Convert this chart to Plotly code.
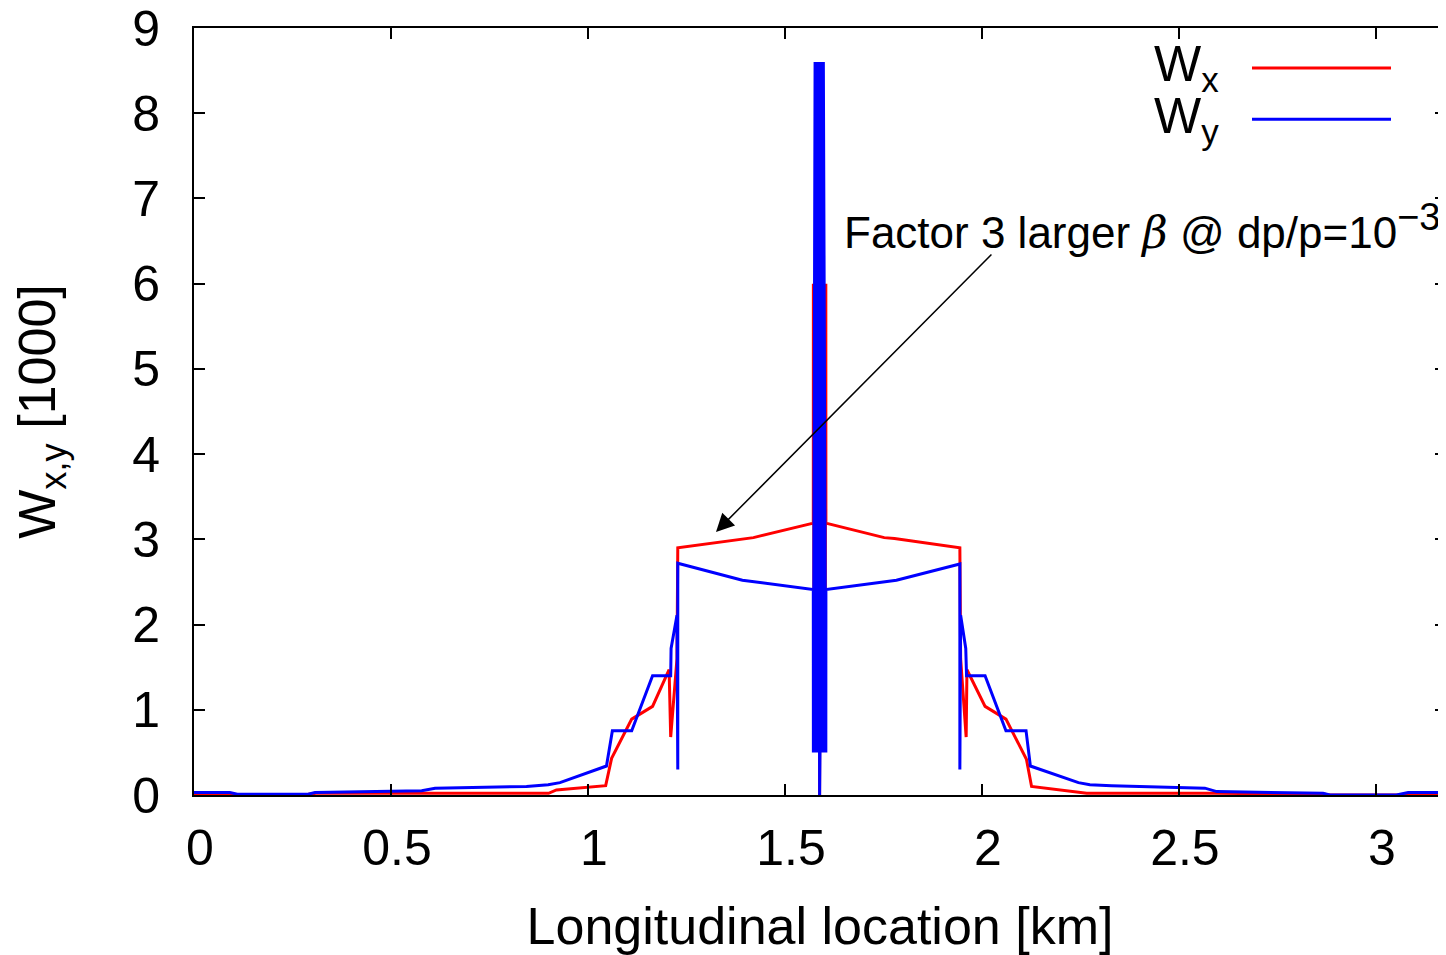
import plotly.graph_objects as go

# ---------------- data ----------------
wx_s = [0.000, 0.090, 0.105, 0.290, 0.310, 0.580, 0.900, 0.920, 1.045, 1.060,
        1.111, 1.164, 1.206, 1.210, 1.226, 1.228, 1.394, 1.420, 1.572,
        1.5722, 1.5740, 1.5758, 1.5776, 1.5794, 1.5812, 1.5830, 1.5848, 1.5866,
        1.5880, 1.5894, 1.5912, 1.5930, 1.5948, 1.5966, 1.5984, 1.6002, 1.6020,
        1.6038, 1.604, 1.752, 1.778, 1.944, 1.946, 1.960, 1.962, 2.008, 2.061,
        2.113, 2.126, 2.266, 2.590, 2.870, 2.885, 3.060, 3.080, 3.175]
wx_v = [0.01, 0.01, 0.00, 0.01, 0.02, 0.02, 0.02, 0.06, 0.11, 0.43,
        0.89, 1.04, 1.47, 0.68, 1.60, 2.90, 3.01, 3.02, 3.19,
        6.00, 1.30, 6.00, 1.30, 6.00, 1.30, 6.00, 1.30, 6.00,
        0.00, 6.00, 1.30, 6.00, 1.30, 6.00, 1.30, 6.00, 1.30,
        6.00, 3.19, 3.02, 3.01, 2.90, 1.60, 0.68, 1.47, 1.04, 0.89,
        0.42, 0.10, 0.02, 0.02, 0.01, 0.00, 0.00, 0.01, 0.01]

wy_s = [0.000, 0.091, 0.110, 0.290, 0.307, 0.497, 0.578, 0.612, 0.844, 0.899,
        0.929, 1.047, 1.062, 1.111, 1.164, 1.210, 1.211, 1.226, 1.228, 1.228,
        1.392, 1.572,
        1.5722, 1.5765, 1.5780, 1.5795, 1.5810, 1.5825, 1.5840, 1.5855, 1.5870,
        1.5880, 1.5890, 1.5905, 1.5920, 1.5935, 1.5950, 1.5965, 1.6000, 1.5975,
        1.6038, 1.604,
        1.783, 1.944, 1.944, 1.946, 1.959, 1.961, 2.008, 2.061, 2.112, 2.123,
        2.245, 2.274, 2.329, 2.566, 2.596, 2.866, 2.883, 3.052, 3.082, 3.175]
wy_v = [0.03, 0.03, 0.01, 0.01, 0.03, 0.04, 0.05, 0.08, 0.10, 0.12,
        0.145, 0.34, 0.755, 0.755, 1.40, 1.40, 1.72, 2.11, 0.30, 2.72,
        2.52, 2.41,
        0.50, 8.60, 0.50, 8.60, 0.50, 8.60, 0.50, 8.60, 0.50,
        0.00, 0.50, 8.60, 0.50, 8.60, 0.50, 8.60, 0.50, 8.60,
        0.50, 2.41,
        2.52, 2.71, 0.30, 2.11, 1.72, 1.40, 1.40, 0.755, 0.755, 0.34,
        0.145, 0.12, 0.11, 0.08, 0.04, 0.02, 0.00, 0.00, 0.03, 0.03]

x_ticks = [0, 0.5, 1, 1.5, 2, 2.5, 3]
x_tick_labels = ["0", "0.5", "1", "1.5", "2", "2.5", "3"]
y_ticks = [0, 1, 2, 3, 4, 5, 6, 7, 8, 9]

series_names = ["W<sub>x</sub>", "W<sub>y</sub>"]
series_colors = ["#ff0000", "#0000ff"]

FONT = "Liberation Sans, Arial, Helvetica, sans-serif"
LW = 3.0

fig = go.Figure()
fig.add_trace(go.Scatter(x=wx_s, y=wx_v, mode="lines", name=series_names[0],
                         line=dict(color=series_colors[0], width=LW), showlegend=False))
fig.add_trace(go.Scatter(x=wy_s, y=wy_v, mode="lines", name=series_names[1],
                         line=dict(color=series_colors[1], width=LW), showlegend=False))
# invisible trace to carry the right-hand mirror ticks
fig.add_trace(go.Scatter(x=[None], y=[None], yaxis="y2", showlegend=False, hoverinfo="skip"))

# the page body has an 8px margin, so the figure is placed at (8, 8)
W, H = 1438, 947
L, R, T, B = 186, 0, 20, 160

fig.update_layout(
    width=W, height=H,
    margin=dict(l=L, r=R, t=T, b=B),
    paper_bgcolor="white", plot_bgcolor="white",
    font=dict(family=FONT, size=50, color="black"),
    showlegend=False,
    xaxis=dict(
        range=[0, 3.178], tickvals=x_ticks, ticktext=x_tick_labels,
        ticks="inside", ticklen=11, tickwidth=1.5, tickcolor="black",
        showline=True, linecolor="black", linewidth=2, mirror="ticks",
        showgrid=False, zeroline=False, ticklabeloverflow="allow", automargin=False,
        tickfont=dict(size=50), ticklabelstandoff=8, ticklabelshift=6,
        title=dict(text="Longitudinal location [km]", font=dict(size=52), standoff=33),
    ),
    yaxis=dict(
        range=[0, 9], tickvals=y_ticks,
        ticks="inside", ticklen=11, tickwidth=1.5, tickcolor="black",
        showline=True, linecolor="black", linewidth=2, mirror=False,
        showgrid=False, zeroline=False, ticklabeloverflow="allow", automargin=False,
        tickfont=dict(size=50), ticklabelstandoff=22,
        title=dict(text="W<sub>x,y</sub> [1000]", font=dict(size=52), standoff=70),
    ),
    yaxis2=dict(
        range=[0, 9], tickvals=y_ticks, overlaying="y", side="right", anchor="x",
        ticks="inside", ticklen=11, tickwidth=1.5, tickcolor="black", automargin=False,
        showticklabels=False, showline=False, showgrid=False, zeroline=False,
    ),
)

# arrow annotation
fig.add_annotation(x=1.325, y=3.087, ax=2.028, ay=6.36, xref="x", yref="y",
                   axref="x", ayref="y", text="", showarrow=True,
                   arrowhead=2, arrowsize=2.4, arrowwidth=1.5, arrowcolor="black", standoff=0)
fig.add_annotation(x=1.644, y=6.66, xref="x", yref="y", xanchor="left", yanchor="middle",
                   text=("Factor 3 larger <span style=\"font-family:DejaVu Serif\"><i>β</i></span>"
                         " @ dp/p=10<sup><span style=\"font-size:38px\">−3</span></sup>"),
                   showarrow=False, font=dict(size=44, color="black"))

# legend drawn gnuplot-style: text right-aligned, line sample to its right
pw = W - L - R
leg_y = [0.948, 0.881]
for name, col, yy in zip(series_names, series_colors, leg_y):
    fig.add_annotation(x=(1213 - L) / pw, y=yy, xref="paper", yref="paper",
                       xanchor="right", yanchor="middle", text=name, showarrow=False,
                       font=dict(size=50, color="black"))
    fig.add_shape(type="line", xref="paper", yref="paper",
                  x0=(1244 - L) / pw, x1=(1383 - L) / pw,
                  y0=yy, y1=yy, line=dict(color=col, width=LW))

fig.write_html("out.html")
